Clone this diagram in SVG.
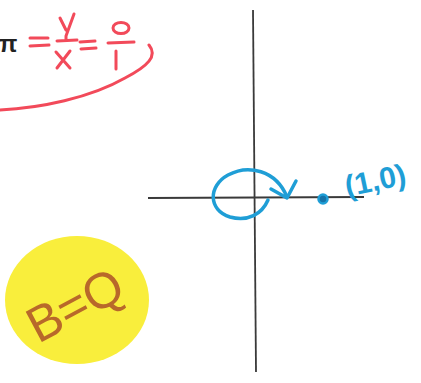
<svg xmlns="http://www.w3.org/2000/svg" width="421" height="383" viewBox="0 0 421 383">
<style>
.redline{stroke:#f24a5a;stroke-width:3;stroke-linecap:round;fill:none;}
.blue{stroke:#1f9ed6;stroke-width:3.5;fill:none;stroke-linecap:round;stroke-linejoin:round;}
.axis{stroke:#3a3a3a;stroke-width:1.8;fill:none;}
</style>
<rect width="421" height="383" fill="#ffffff"/>
<g id="axes">
<path class="axis" d="M253 10 L256 372"/>
<path class="axis" d="M148 198 L364 197"/>
</g>
<g id="formula">
<text x="-1" y="52" font-family="Liberation Sans,Arial,sans-serif" font-size="24" font-weight="bold" fill="#222">π</text>
<path class="redline" d="M30 38 L48 38 M30 46 L49 45"/>
<path class="redline" d="M60 18 L66 30 M74 14 L66 36 L66 40 M57 41 L77 40"/>
<path class="redline" d="M56 52 L70 68 M70 51 L57 68"/>
<path class="redline" d="M80 42 L95 41 M81 49 L96 48"/>
<ellipse cx="121" cy="28" rx="8" ry="5.5" class="redline"/>
<path class="redline" d="M108 43 L134 42"/>
<path class="redline" d="M116 51 L116 69"/>
<path class="redline" d="M0 110 C40 108 90 98 125 78 C148 66 158 56 149 45" stroke-width="2"/>
</g>
<g id="loop">
<path class="blue" d="M268 200 C262 214 248 222 230 217 C208 210 208 186 228 175 C248 164 276 170 287 197"/>
<path class="blue" d="M271 189 L287 198 L296 181"/>
<circle cx="323" cy="199" r="4.5" fill="#1573a8" stroke="#1f9ed6" stroke-width="2.5"/>
<text x="344" y="190" font-family="Liberation Sans,Arial,sans-serif" font-size="30" font-weight="bold" fill="#1f9ed6" transform="rotate(-12 378 178)">(1,0)</text>
</g>
<g id="badge">
<ellipse cx="77" cy="300" rx="72" ry="64" fill="#f9ee3c"/>
<text x="76" y="322" text-anchor="middle" font-family="Liberation Sans,Arial,sans-serif" font-size="50" fill="#b8692a" transform="rotate(-28 76 307)">B=Q</text>
</g>
</svg>
